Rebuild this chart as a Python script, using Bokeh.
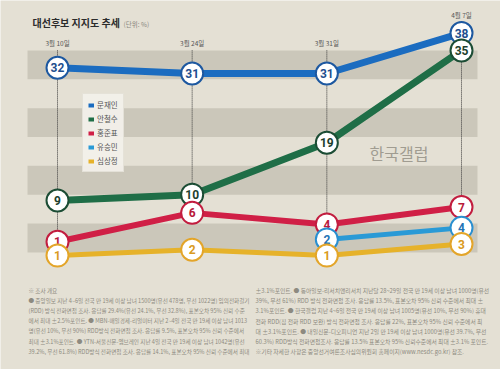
import numpy as np
from bokeh.plotting import figure
from bokeh.models import Range1d, ColumnDataSource, Legend, LegendItem
from bokeh.transform import dodge
from bokeh.core.properties import value
from bokeh.embed import file_html
from bokeh.resources import INLINE

# ---------------- data ----------------
dates = ["3월 10일", "3월 24일", "3월 31일", "4월 7일"]
moon = [32, 31, 31, 38]
ahn = [9, 10, 19, 35]
hong = [1, 6, 4, 7]
yoo = [np.nan, np.nan, 2, 4]
sim = [1, 2, 1, 3]
names = ["문재인", "안철수", "홍준표", "유승민", "심상정"]
band_bottoms = [0, 10, 20, 30]
band_height = 5

notes_left = [
    "※ 조사 개요",
    "● 중앙일보 지난 4~6일 전국 만 19세 이상 남녀 1500명(유선 478명, 무선 1022명) 임의전화걸기",
    "(RDD) 방식 전화면접 조사. 응답률 29.4%(유선 24.1%, 무선 32.8%), 표본오차 95% 신뢰 수준",
    "에서 최대 ±2.5%포인트. ● MBN-매일경제-리얼미터 지난 2~4일 전국 만 19세 이상 남녀 1013",
    "명(유선 10%, 무선 90%) RDD방식 전화면접 조사. 응답률 9.5%, 표본오차 95% 신뢰 수준에서",
    "최대 ±3.1%포인트. ● YTN-서울신문-엠브레인 지난 4일 전국 만 19세 이상 남녀 1042명(유선",
    "39.2%, 무선 61.8%) RDD방식 전화면접 조사. 응답률 14.1%, 표본오차 95% 신뢰 수준에서 최대",
]
notes_right = [
    "±3.1%포인트. ● 동아일보-리서치앤리서치 지난달 28~29일 전국 만 19세 이상 남녀 1000명(유선",
    "39%, 무선 61%) RDD 방식 전화면접 조사. 응답률 13.5%, 표본오차 95% 신뢰 수준에서 최대 ±",
    "3.1%포인트. ● 한국갤럽 지난 4~6일 전국 만 19세 이상 남녀 1005명(유선 10%, 무선 90%) 휴대",
    "전화 RDD(집 전화 RDD 보완) 방식 전화면접 조사. 응답률 22%, 표본오차 95% 신뢰 수준에서 최",
    "대 ±3.1%포인트. ● 내일신문-디오피니언 지난 2일 만 19세 이상 남녀 1000명(유선 39.7%, 무선",
    "60.3%) RDD방식 전화면접조사. 응답률 13.5% 표본오차 95% 신뢰수준에서 최대 ±3.1% 포인트.",
    "※기타 자세한 사항은 중앙선거여론조사심의위원회 홈페이지(www.nesdc.go.kr) 참조.",
]

# ---------------- layout helpers (page pixels -> data) ----------------
W, H = 500, 369
XPX0, XSTEP = 57.0, 134.67      # page x of first date, px per date
YPX0, YSTEP = 251.9, 5.771      # page y of value 0, px per percentage point


def fx(px):
    return (px - XPX0) / XSTEP


def fy(py):
    return (YPX0 - py) / YSTEP


KR_NAME = "Noto Sans CJK KR"
KR = value(KR_NAME)
NUM = value("Roboto")

p = figure(width=W, height=H, output_backend="svg", toolbar_location=None,
           x_range=Range1d(fx(0), fx(W)), y_range=Range1d(fy(H), fy(0)),
           min_border=0, background_fill_color="#e4e0d4", border_fill_color="#e4e0d4")
p.axis.visible = False
p.grid.visible = False
p.outline_line_color = None

# bands
p.quad(left=fx(27), right=fx(477), bottom=band_bottoms,
       top=[b + band_height for b in band_bottoms],
       fill_color="#cbc7ba", line_color=None)

# watermark
p.text(x=[fx(369)], y=[17.3], text=["한국갤럽"], text_font=KR, text_font_size="16px",
       text_color="#a09c91", text_baseline="middle", text_align="left")

idx = list(range(len(dates)))
series = [
    # name, values, line colour, ring colour, text colour, line width, nudge
    ("문재인", moon, "#1b6cc0", "#1d58a0", "#1d4e8e", 7, 0.0),
    ("안철수", ahn, "#1f6e47", "#1c4d35", "#1c3f2e", 7, 0.0),
    ("홍준표", hong, "#d01f46", "#c21d3f", "#b81a3b", 6, 0.85),
    ("유승민", yoo, "#2a9ad6", "#2a8fd0", "#2473b5", 5, 0.25),
    ("심상정", sim, "#e6b22a", "#e3a52a", "#d99a20", 5, -1.55),
]

src = ColumnDataSource(dict(
    x=idx, date=dates, moon=moon, ahn=ahn, hong=hong, yoo=yoo, sim=sim,
    top=[35] * len(dates),
    label_y=list(np.maximum(36.2, np.array(moon) + 3.1)),
))
keys = ["moon", "ahn", "hong", "yoo", "sim"]

# vertical dotted guides
p.segment(x0="x", x1="x", y0="top", y1=dodge("hong", 0.85, range=p.y_range),
          source=src, line_color="#3a3a3a", line_width=1, line_dash="1 1")

# date labels
p.text(x="x", y="label_y", text="date", source=src, text_font=KR,
       text_font_size="6.5px", text_color="#555555", text_align="center",
       text_baseline="middle")

# lines (bottom series first)
for (name, vals, lc, rc, tc, lw, nd), k in reversed(list(zip(series, keys))):
    p.line(x="x", y=dodge(k, nd, range=p.y_range), source=src, line_color=lc,
           line_width=lw)

# circles + numbers (top series first so lower ones lie on top)
for (name, vals, lc, rc, tc, lw, nd), k in zip(series, keys):
    s = ColumnDataSource(dict(x=[i for i, v in zip(idx, vals) if not np.isnan(v)],
                              v=[v for v in vals if not np.isnan(v)],
                              t=["%d" % v for v in vals if not np.isnan(v)]))
    p.scatter(x="x", y=dodge("v", nd, range=p.y_range), source=s, size=22,
              fill_color="white", line_color=rc, line_width=2)
    p.text(x="x", y=dodge("v", nd, range=p.y_range), text="t", source=s,
           text_font=NUM, text_font_style="bold", text_font_size="12px",
           text_color=tc, text_align="center", text_baseline="middle")

# title
p.text(x=[fx(32)], y=[fy(22)], text=["대선후보 지지도 추세"], text_font=KR,
       text_font_style="bold", text_font_size="10px", text_color="#2b2b2b",
       text_baseline="middle")
p.text(x=[fx(123)], y=[fy(23)], text=["(단위: %)"], text_font=KR,
       text_font_size="6.5px", text_color="#8a877e", text_baseline="middle")

# footnotes
step = 10.2 / YSTEP
for col, xpx, fs in ((notes_left, 28, "5.6px"), (notes_right, 255, "5.8px")):
    fsrc = ColumnDataSource(dict(x=[fx(xpx)] * len(col),
                                 y=[fy(290) - i * step for i in range(len(col))],
                                 t=col))
    p.text(x="x", y="y", text="t", source=fsrc, text_font=KR, text_font_size=fs,
           text_color="#8d8a80", text_baseline="middle", text_align="left")

# legend with small colour blocks
items = []
for name, vals, lc, rc, tc, lw, nd in series:
    r = p.line(x=[np.nan], y=[np.nan], line_color=lc, line_width=4)
    items.append(LegendItem(label=name, renderers=[r]))
leg = Legend(items=items, location=(82, 197), margin=0, padding=5, spacing=3,
             glyph_width=6, glyph_height=10, label_height=10, label_standoff=3,
             label_text_font=KR_NAME, label_text_font_size="7.5px",
             label_text_color="#555555", background_fill_color="#f2f0ea",
             background_fill_alpha=0.95, border_line_color="#d8d4c8")
p.add_layout(leg)

open("out.html", "w").write(file_html(p, INLINE))
